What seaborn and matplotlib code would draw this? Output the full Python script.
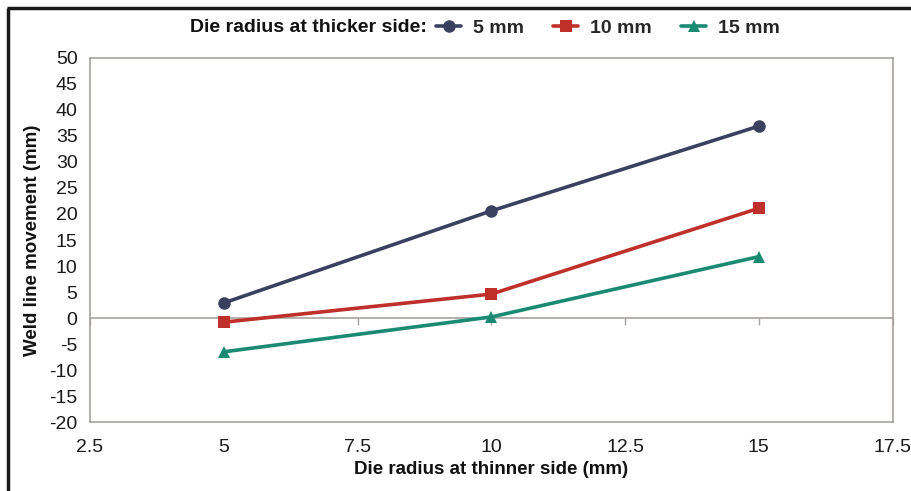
import matplotlib
matplotlib.use("Agg")
import matplotlib.pyplot as plt
from matplotlib.lines import Line2D
import seaborn as sns
import pandas as pd

# Weld line movement vs. die radius at the thinner side
thinner_radius = [5, 10, 15]
series_names = ["5 mm", "10 mm", "15 mm"]
movement_5mm = [2.9, 20.6, 36.9]
movement_10mm = [-0.8, 4.6, 21.1]
movement_15mm = [-6.5, 0.2, 11.8]

x_ticks = [2.5, 5, 7.5, 10, 12.5, 15, 17.5]
x_tick_labels = ["2.5", "5", "7.5", "10", "12.5", "15", "17.5"]
y_ticks = list(range(-20, 51, 5))

rows = []
for name, vals in zip(series_names, [movement_5mm, movement_10mm, movement_15mm]):
    for r, v in zip(thinner_radius, vals):
        rows.append({"thinner": r, "movement": v, "thicker": name})
df = pd.DataFrame(rows)

sns.set_theme(style="white")
plt.rcParams["font.family"] = ["Liberation Sans", "DejaVu Sans"]
plt.rcParams["axes.unicode_minus"] = False

colors = {"5 mm": "#3a4160", "10 mm": "#c0302b", "15 mm": "#1a8a72"}
markers = {"5 mm": "o", "10 mm": "s", "15 mm": "^"}
axis_gray = "#a8a2a0"
lw = 2.6
ms = 9

fig = plt.figure(figsize=(9.12, 4.91), dpi=100)
ax = fig.add_axes([0.0987, 0.1405, 0.880, 0.7414])

sns.lineplot(data=df, x="thinner", y="movement", hue="thicker", style="thicker",
             palette=colors, markers=markers, dashes=False, linewidth=lw,
             markersize=ms, markeredgewidth=0, ax=ax, legend=False)

ax.set_xlim(2.5, 17.5)
ax.set_ylim(-20, 50)
ax.set_xticks(x_ticks)
ax.set_xticklabels(x_tick_labels)
ax.set_yticks(y_ticks)
ax.tick_params(axis="x", length=0, pad=12, labelsize=14, colors="#1a1a1a")
ax.tick_params(axis="y", length=5, width=1, direction="out",
               pad=4, labelsize=14, colors="#1a1a1a")
ax.tick_params(axis="y", color=axis_gray)
for sp in ax.spines.values():
    sp.set_color(axis_gray)
    sp.set_linewidth(1.2)

# horizontal axis crossing at zero, with its tick marks
zero_axis = ax.secondary_xaxis(20 / 70)
zero_axis.set_xticks(x_ticks)
zero_axis.tick_params(axis="x", length=5, width=1, color=axis_gray,
                      direction="out", labelbottom=False, labeltop=False)
zero_axis.spines["bottom"].set_color(axis_gray)
zero_axis.spines["bottom"].set_linewidth(1.2)
zero_axis.xaxis.set_ticks_position("bottom")
zero_axis.xaxis.set_tick_params(labelbottom=False)

ax.set_xlabel("Die radius at thinner side (mm)", fontsize=13.5, fontweight="bold",
              labelpad=4, color="#111111")
ax.set_ylabel("Weld line movement (mm)", fontsize=13.5, fontweight="bold",
              labelpad=6, color="#111111")

# legend across the top
handles = [Line2D([], [], color=colors[n], marker=markers[n], markersize=ms,
                  markeredgewidth=0, linewidth=lw) for n in series_names]
fig.text(0.468, 0.943, "Die radius at thicker side:", fontsize=14,
         fontweight="bold", ha="right", va="center", color="#111111")
fig.legend(handles, series_names, loc="center left", bbox_to_anchor=(0.478, 0.943),
           ncol=3, frameon=False, handlelength=1.3, handletextpad=0.6,
           columnspacing=1.5, prop={"weight": "bold", "size": 14},
           borderpad=0, borderaxespad=0)

# frame lines along the top and left of the figure
fig.add_artist(Line2D([7 / 912, 1.0], [1 - 8 / 491, 1 - 8 / 491],
                      transform=fig.transFigure, color="#1a1a1a", linewidth=2.5,
                      solid_capstyle="butt"))
fig.add_artist(Line2D([8.5 / 912, 8.5 / 912], [0, 1 - 8 / 491],
                      transform=fig.transFigure, color="#1a1a1a", linewidth=2.5,
                      solid_capstyle="butt"))

fig.savefig("out.png", dpi=100, facecolor="white")
